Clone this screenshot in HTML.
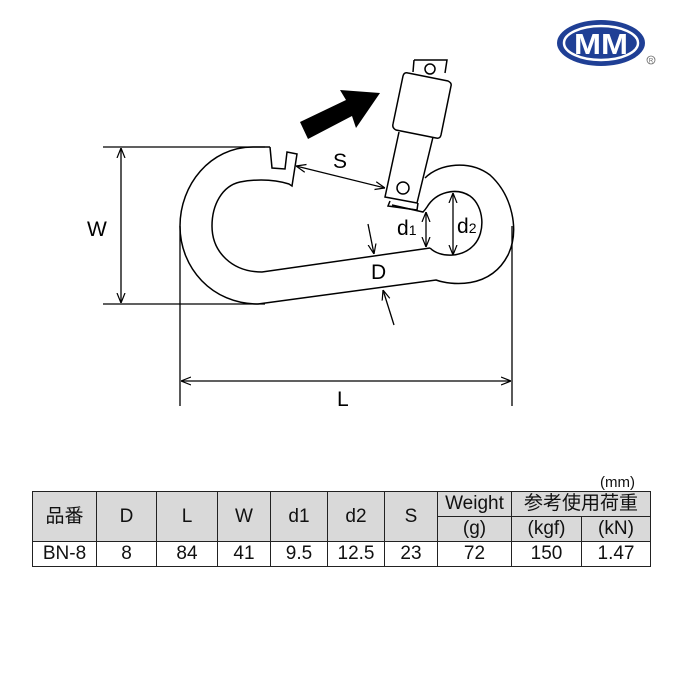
<!DOCTYPE html>
<html><head><meta charset="utf-8"><style>
body{margin:0;background:#fff;width:680px;height:680px;overflow:hidden;font-family:"Liberation Sans","Noto Sans CJK JP",sans-serif}
table{position:absolute;left:32px;top:491px;border-collapse:collapse;font-family:"Liberation Sans","Noto Sans CJK JP",sans-serif;font-size:19px;color:#111}
td{border:1.3px solid #222;text-align:center;padding:0;line-height:20px}
.h td{background:#d9d9d9}
</style></head><body>
<svg width="680" height="680" style="position:absolute;left:0;top:0" xmlns="http://www.w3.org/2000/svg">
<defs><marker id="a" viewBox="0 0 10 10" refX="10" refY="5" markerWidth="10" markerHeight="10" orient="auto-start-reverse" markerUnits="userSpaceOnUse"><path d="M0,1 L10,5 L0,9" fill="none" stroke="#000" stroke-width="1.2"/></marker></defs>
<!-- logo -->
<ellipse cx="601" cy="43" rx="44" ry="23" fill="#1f3f95"/>
<ellipse cx="601" cy="43" rx="37" ry="17" fill="none" stroke="#fff" stroke-width="2.5"/>
<text x="601" y="54" text-anchor="middle" font-family="Liberation Sans" font-weight="bold" font-size="29" fill="#fff" textLength="54" lengthAdjust="spacingAndGlyphs">MM</text>
<circle cx="651" cy="60" r="4" fill="none" stroke="#666" stroke-width="0.8"/>
<text x="651" y="62.5" text-anchor="middle" font-size="6" fill="#666">R</text>
<g fill="none" stroke="#000" stroke-width="1.5">
<path d="M270,147 L253,147 C210,147 180,185 180,226 C180,268 212,304 258,304 L436,280 C450,285 490,290 508,255 C520,230 512,195 490,175 C470,160 440,163 425,178"/>
<path d="M270,147 L272,168 L285,169 L287,152 L297,154 L292,186 L289,184 C270,178 250,180 240,182 C222,186 212,205 212,226 C212,252 232,272 262,272 L430,248"/>
<path d="M430,248 C440,258 462,258 474,245 C486,232 484,206 470,196 C456,187 436,192 427,207 C425,210 424,211 423,212 L392,205"/>
<path d="M414,60 L447,60 L445,73"/><path d="M413,72 L414,60"/>
<circle cx="430" cy="69" r="5"/>
<path d="M408,73 L448,81 Q452,83 451,86 L441,135 Q440,139 436,138 L396,130 Q392,128 393,124 L403,76 Q404,72 408,73 Z"/>
<path d="M399,132 L385,197 L417,203 L433,137"/>
<circle cx="403" cy="188" r="6"/>
<path d="M390,201 L388,206 L417,210 L418,203"/>
</g>
<path d="M300,122 L346,100 L340,90 L380,93 L356,128 L352,116 L308,139 Z" fill="#000"/>
<g stroke="#000" stroke-width="1.3" fill="none">
<line x1="103" y1="147" x2="265" y2="147"/><line x1="103" y1="304" x2="265" y2="304"/>
<line x1="121" y1="148" x2="121" y2="303" marker-start="url(#a)" marker-end="url(#a)"/>
<line x1="180" y1="226" x2="180" y2="406"/><line x1="512" y1="226" x2="512" y2="406"/>
<line x1="181" y1="381" x2="511" y2="381" marker-start="url(#a)" marker-end="url(#a)"/>
<line x1="296" y1="166" x2="385" y2="188" marker-start="url(#a)" marker-end="url(#a)"/>
<line x1="426" y1="212" x2="426" y2="247" marker-start="url(#a)" marker-end="url(#a)"/>
<line x1="453" y1="193" x2="453" y2="255" marker-start="url(#a)" marker-end="url(#a)"/>
<line x1="368" y1="224" x2="374" y2="254" marker-end="url(#a)"/>
<line x1="394" y1="325" x2="383" y2="290" marker-end="url(#a)"/>
</g>
<g font-family="Liberation Sans" font-size="21" fill="#000">
<text x="87" y="236">W</text>
<text x="337" y="406">L</text>
<text x="333" y="168">S</text>
<text x="371" y="279">D</text>
<text x="397" y="235">d<tspan font-size="14">1</tspan></text>
<text x="457" y="233">d<tspan font-size="14">2</tspan></text>
</g>
<text x="600" y="487" font-size="15" font-family="Liberation Sans" fill="#111">(mm)</text>
</svg>
<table>
<tr class="h" style="height:25px"><td rowspan="2" style="width:63px">品番</td><td rowspan="2" style="width:59px">D</td><td rowspan="2" style="width:60px">L</td><td rowspan="2" style="width:52px">W</td><td rowspan="2" style="width:56px">d1</td><td rowspan="2" style="width:56px">d2</td><td rowspan="2" style="width:52px">S</td><td style="width:73px">Weight</td><td colspan="2">参考使用荷重</td></tr>
<tr class="h" style="height:25px"><td>(g)</td><td style="width:69px">(kgf)</td><td style="width:68px">(kN)</td></tr>
<tr style="height:25px"><td>BN-8</td><td>8</td><td>84</td><td>41</td><td>9.5</td><td>12.5</td><td>23</td><td>72</td><td>150</td><td>1.47</td></tr>
</table>
</body></html>
